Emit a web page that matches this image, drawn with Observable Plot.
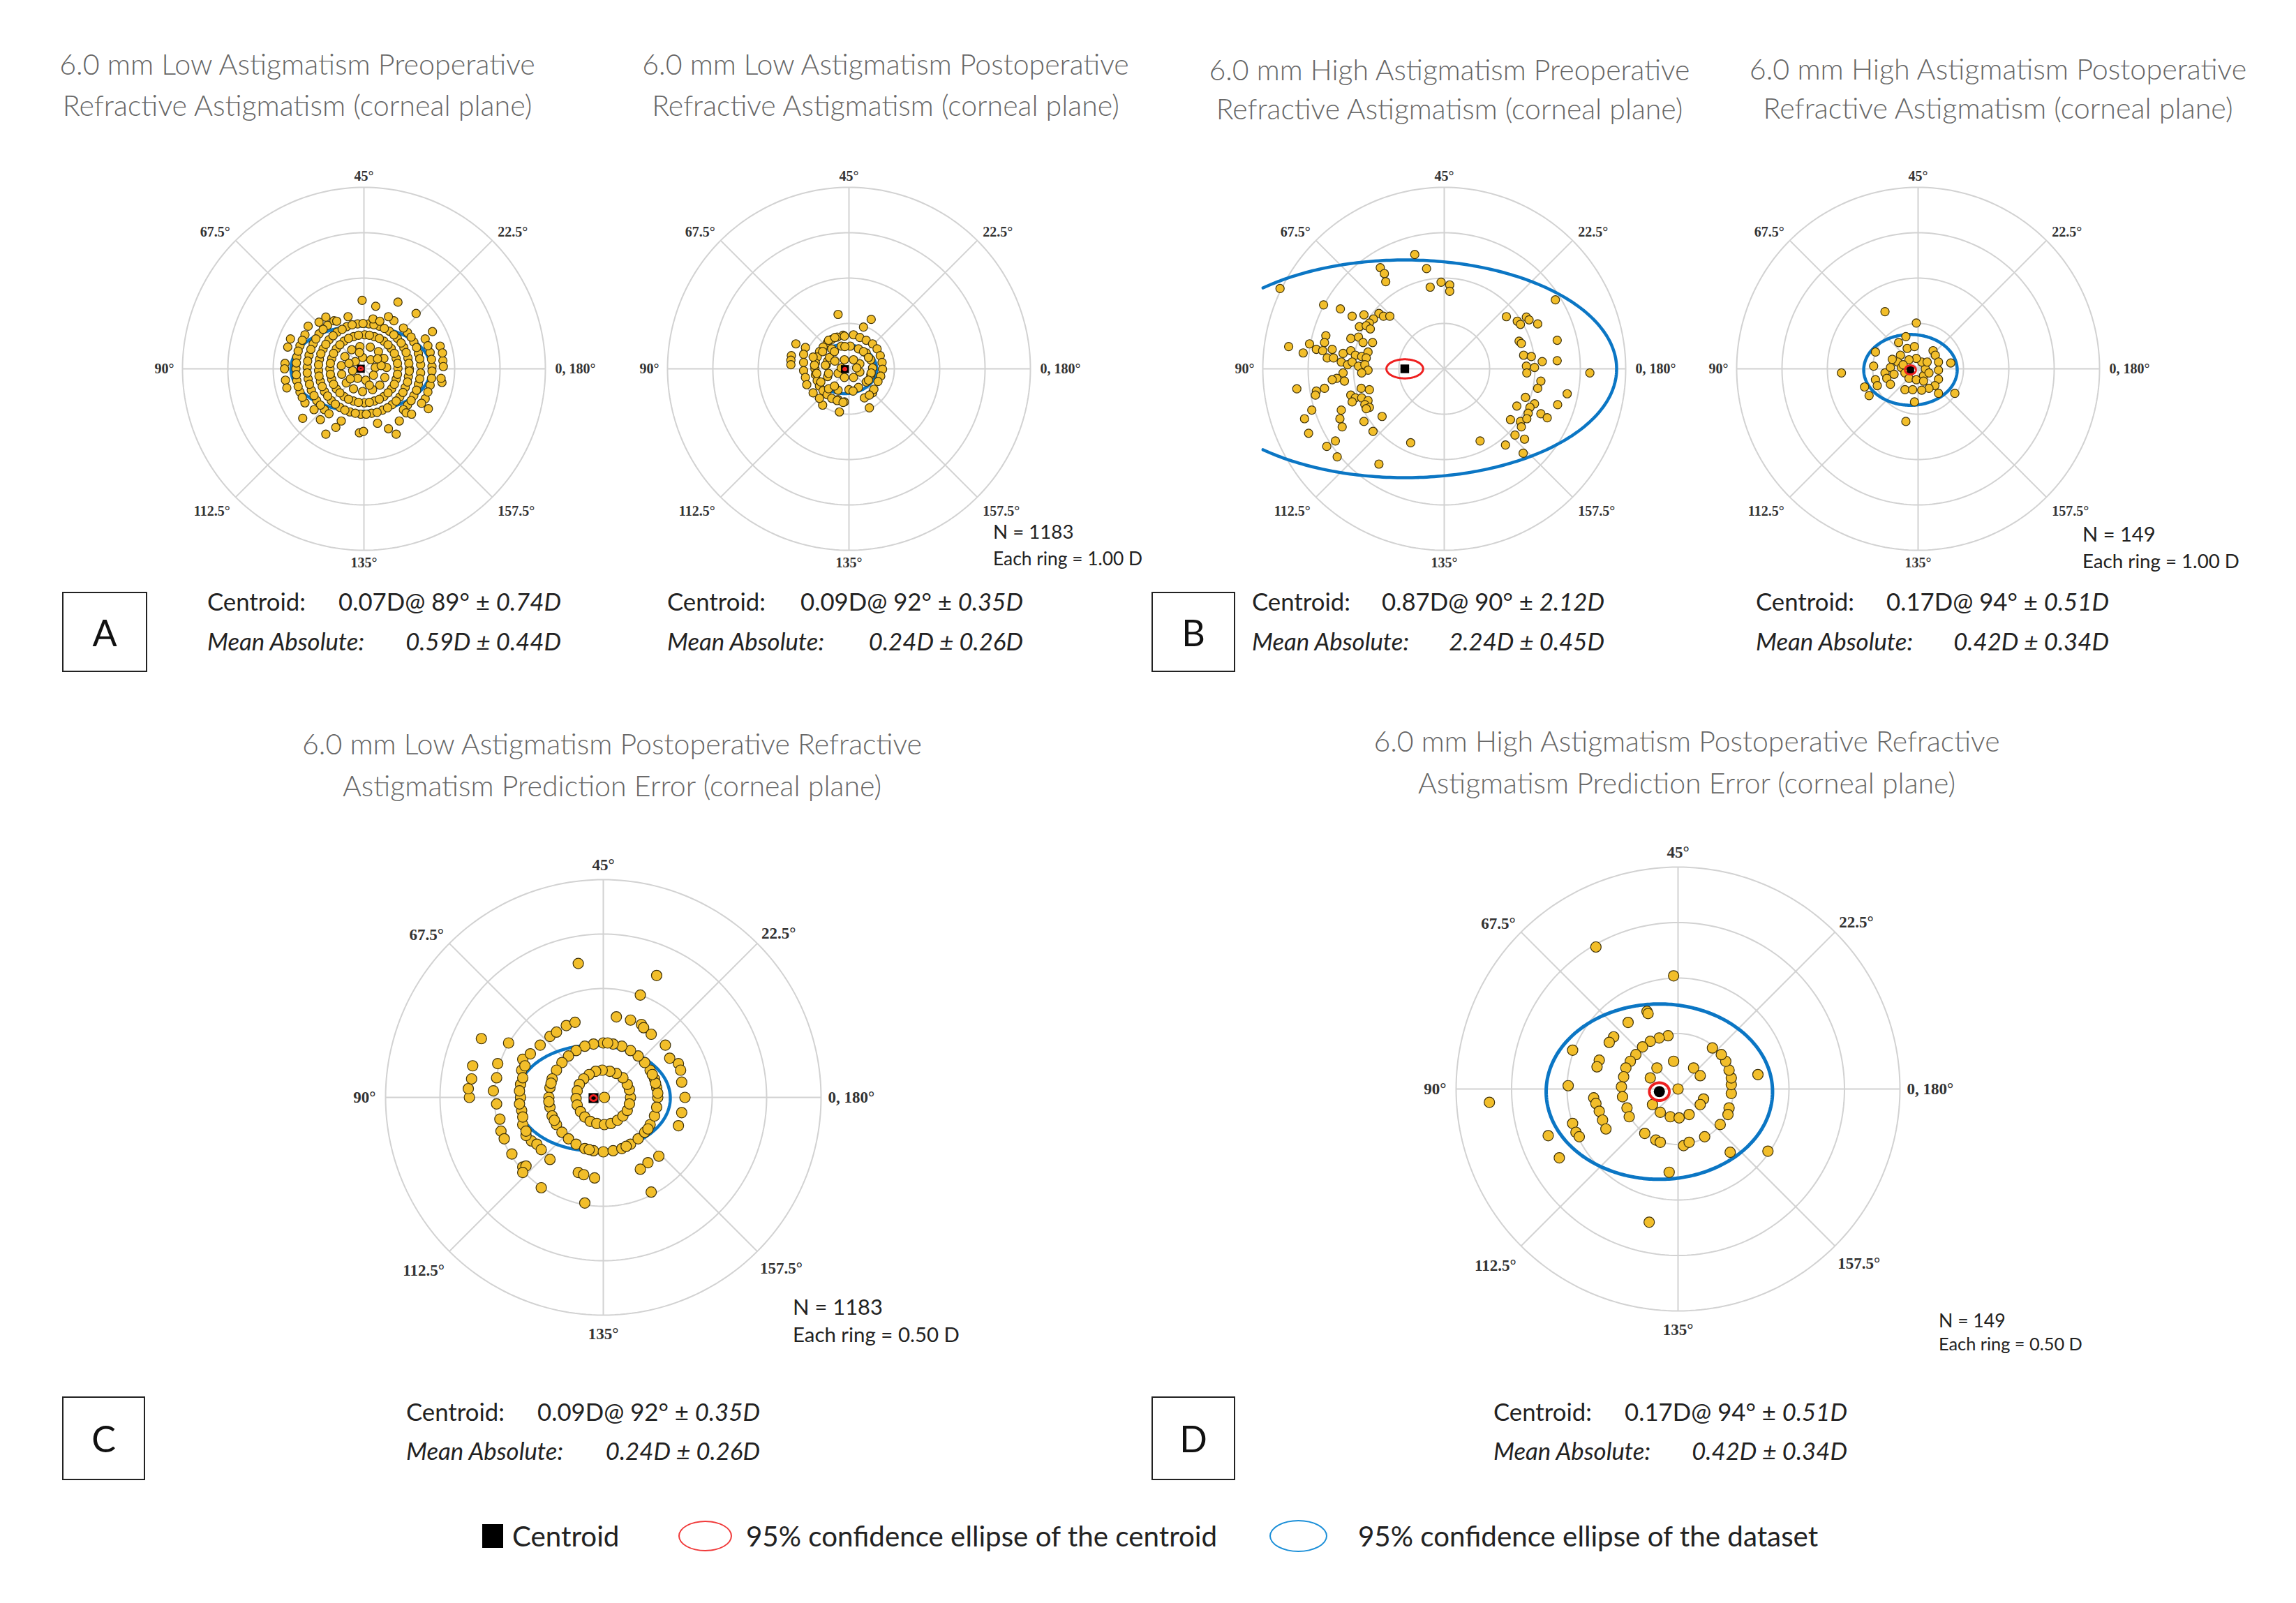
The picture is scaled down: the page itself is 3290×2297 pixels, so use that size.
<!DOCTYPE html>
<html><head><meta charset="utf-8">
<script src="https://cdn.jsdelivr.net/npm/d3@7"></script>
<script src="https://cdn.jsdelivr.net/npm/@observablehq/plot@0.6"></script>
<style>
body{margin:0;background:#fff;}
#fig{position:relative;width:3290px;height:2297px;background:#fff;overflow:hidden;font-family:Lato,"Open Sans",sans-serif;}
.t{position:absolute;white-space:nowrap;line-height:1;}
.box{position:absolute;border:2px solid #222;box-sizing:border-box;display:flex;align-items:center;justify-content:center;font-family:Lato,sans-serif;color:#111;}
</style></head><body><div id="fig"></div>
<script>
// ---------------- DATA ----------------
const panelKeys = ["A1","A2","B1","B2","C","D"];
const titles = [
  ["6.0 mm Low Astigmatism Preoperative","Refractive Astigmatism (corneal plane)"],
  ["6.0 mm Low Astigmatism Postoperative","Refractive Astigmatism (corneal plane)"],
  ["6.0 mm High Astigmatism Preoperative","Refractive Astigmatism (corneal plane)"],
  ["6.0 mm High Astigmatism Postoperative","Refractive Astigmatism (corneal plane)"],
  ["6.0 mm Low Astigmatism Postoperative Refractive","Astigmatism Prediction Error (corneal plane)"],
  ["6.0 mm High Astigmatism Postoperative Refractive","Astigmatism Prediction Error (corneal plane)"]
];
const centroidMag  = [0.07, 0.09, 0.87, 0.17, 0.09, 0.17];
const centroidAxis = [89, 92, 90, 94, 92, 94];
const centroidSD   = [0.74, 0.35, 2.12, 0.51, 0.35, 0.51];
const meanAbs      = [0.59, 0.24, 2.24, 0.42, 0.24, 0.42];
const meanAbsSD    = [0.44, 0.26, 0.45, 0.34, 0.26, 0.34];
const nCount       = [null, 1183, null, 149, 1183, 149];
const ringStep     = [1.00, 1.00, 1.00, 1.00, 0.50, 0.50];
const ringCount    = [1, 2, 3, 4];
const angleValues  = [0, 22.5, 45, 67.5, 90, 112.5, 135, 157.5];
const angleLabels  = ["0, 180°","22.5°","45°","67.5°","90°","112.5°","135°","157.5°"];
const panelLetters = ["A","B","C","D"];
// 95% confidence ellipses (semi-axes, D)
const blueSemiX = [1.54, 0.70, 4.67, 1.03, 0.705, 1.02];
const blueSemiY = [0.94, 0.54, 2.40, 0.78, 0.485, 0.79];
const redSemiX  = [0.045, 0.03, 0.405, 0.12, 0.03, 0.09];
const redSemiY  = [0.035, 0.025, 0.21, 0.10, 0.025, 0.08];
const legendItems = ["Centroid","95% confidence ellipse of the centroid","95% confidence ellipse of the dataset"];

// double-angle vector components [x, y] in dioptres
const ptsA1 = [
 [0.25,0.03],[0.15,0.20],[-0.03,0.25],[-0.19,0.16],[-0.25,-0.04],[-0.14,-0.21],[0.04,-0.25],[0.21,-0.14],
 [0.50,0.03],[0.44,0.23],[0.32,0.38],[0.14,0.48],[-0.09,0.49],[-0.27,0.42],[-0.42,0.27],[-0.50,0.07],[-0.49,-0.12],[-0.39,-0.31],[-0.23,-0.44],[-0.03,-0.50],[0.19,-0.46],[0.35,-0.36],[0.46,-0.19],
 [0.38,0.07],[0.30,0.22],[-0.33,0.12],[-0.30,-0.22],[0.12,-0.36],[-0.10,0.36],
 [0.75,0.01],[0.71,0.23],[0.60,0.45],[0.44,0.61],[0.23,0.71],[0.02,0.75],[-0.23,0.71],[-0.44,0.61],[-0.61,0.44],[-0.71,0.23],[-0.75,0.00],[-0.71,-0.23],[-0.61,-0.44],[-0.44,-0.61],[-0.23,-0.71],[0.01,-0.75],[0.23,-0.71],[0.44,-0.61],[0.61,-0.44],[0.71,-0.23],
 [0.74,0.12],[0.67,0.34],[0.53,0.53],[0.34,0.67],[0.12,0.74],[-0.12,0.74],[-0.34,0.67],[-0.53,0.53],[-0.67,0.34],[-0.74,0.12],[-0.74,-0.12],[-0.67,-0.34],[-0.53,-0.53],[-0.34,-0.67],[-0.12,-0.74],[0.12,-0.74],[0.34,-0.67],[0.53,-0.53],[0.67,-0.34],[0.74,-0.12],
 [1.00,0.00],[0.97,0.24],[0.88,0.47],[0.74,0.67],[0.56,0.83],[0.34,0.94],[0.11,0.99],[-0.14,0.99],[-0.38,0.93],[-0.59,0.81],[-0.77,0.64],[-0.90,0.44],[-0.98,0.21],[-1.00,-0.04],[-0.96,-0.28],[-0.87,-0.50],[-0.72,-0.70],[-0.53,-0.85],[-0.31,-0.95],[-0.07,-1.00],[0.17,-0.98],[0.41,-0.91],[0.62,-0.79],[0.79,-0.62],[0.91,-0.41],[0.98,-0.17],
 [0.99,0.12],[0.93,0.36],[0.82,0.57],[0.66,0.75],[0.45,0.89],[0.22,0.97],[-0.02,1.00],[-0.26,0.97],[-0.48,0.87],[-0.68,0.73],[-0.84,0.54],[-0.95,0.33],[-1.00,0.09],[-0.99,-0.16],[-0.92,-0.39],[-0.80,-0.60],[-0.63,-0.78],[-0.42,-0.91],[-0.19,-0.98],[0.05,-1.00],[0.29,-0.96],[0.52,-0.86],[0.71,-0.71],[0.86,-0.52],[0.96,-0.29],[1.00,-0.05],
 [1.25,0.09],[1.20,0.34],[1.10,0.59],[0.96,0.80],[-0.80,0.96],[-0.99,0.77],[-1.12,0.55],[-1.21,0.30],[-1.25,0.04],[-1.23,-0.22],[-1.16,-0.47],[-1.04,-0.70],[-0.87,-0.90],[0.96,-0.80],[1.10,-0.59],[1.20,-0.34],[1.25,-0.09],
 [1.23,0.22],[1.16,0.47],[1.04,0.70],[0.87,0.90],[0.66,1.06],[-0.66,1.06],[-0.90,0.87],[-1.06,0.66],[-1.17,0.43],[-1.24,0.17],[-1.25,-0.09],[-1.20,-0.34],[-1.10,-0.59],[-0.96,-0.80],[-0.77,-0.99],[0.87,-0.90],[1.04,-0.70],[1.16,-0.47],[1.23,-0.22],
 [1.50,0.05],[1.46,0.36],[1.35,0.66],[-1.30,0.75],[-1.41,0.51],[-1.48,0.26],[-1.50,0.00],[-1.48,-0.26],[-1.41,-0.51],[-1.30,-0.75],[1.35,-0.66],[1.46,-0.36],[1.50,-0.05],
 [1.49,0.21],[1.41,0.51],[-1.36,0.63],[-1.45,0.39],[-1.49,0.13],[-1.49,-0.13],[-1.45,-0.39],[-1.36,-0.63],[1.41,-0.51],[1.49,-0.21],
 [1.74,0.18],[1.72,-0.30],[-1.74,0.12],[-1.73,-0.25],[-1.68,0.48],[-1.75,0.00],[-1.70,-0.42],[1.75,0.05],[-1.62,0.66],[1.68,0.50],
 [-0.04,1.51],[0.26,1.38],[0.75,1.47],[1.15,1.22],[0.54,1.15],[1.51,0.82],[-0.84,1.14],[-0.99,1.03],[-1.23,0.94],[-1.35,-1.09],[-0.96,-1.12],[-0.84,-1.44],[-0.62,-1.29],[-0.10,-1.41],[-0.01,-1.38],[0.54,-1.32],[0.71,-1.44],[0.78,-1.15],[0.93,-0.97],[1.27,-0.76],[1.42,-0.88],[1.70,-0.21],[1.73,0.35],
 [-0.60,1.05],[-0.35,1.15],[0.20,1.10],[0.35,1.05],[-1.10,-0.90],[1.05,-1.00],[-0.50,-1.15],[0.30,-1.20]
];
const ptsA2 = [
 [-0.24,1.20],[0.49,1.09],[0.32,0.92],[-1.17,0.55],[-0.96,0.47],[-1.00,0.32],[-1.27,0.29],[-1.28,0.19],[-1.28,0.09],[-1.00,0.14],[-1.00,-0.04],[-0.96,-0.19],[-0.93,-0.35],[-0.79,-0.53],[-0.58,-0.80],[-0.65,-0.65],[-0.21,-0.95],[-0.24,-0.68],[-0.10,-0.73],[0.45,-0.86],[0.34,-0.64],[0.52,-0.53],
 [0.10,0.75],[0.24,0.69],[0.38,0.63],[0.52,0.55],[0.62,0.44],[0.69,0.29],[0.73,0.14],[0.74,-0.01],[0.70,-0.16],[0.64,-0.28],
 [-0.13,0.74],[-0.26,0.70],[-0.38,0.65],[-0.48,0.57],[-0.57,0.48],[-0.65,0.38],[-0.70,0.26],[-0.74,0.13],[-0.75,0.00],[-0.74,-0.13],[-0.70,-0.26],[-0.65,-0.38],[-0.57,-0.48],[-0.48,-0.57],[-0.38,-0.65],[-0.26,-0.70],[-0.13,-0.74],[0.55,-0.45],[0.45,-0.58],
 [-0.79,0.26],[-0.76,0.08],[-0.71,-0.10],[-0.62,-0.29],[-0.45,-0.44],[-0.24,-0.47],[0.00,-0.46],[0.21,-0.41],[0.38,-0.29],[0.48,-0.13],[0.52,0.02],[0.48,0.20],[0.38,0.35],[0.21,0.44],[0.03,0.50],[-0.17,0.50],[-0.38,0.44],[-0.58,0.38],[-0.45,0.63],[-0.31,0.69],[-0.10,0.72],
 [-0.50,0.09],[-0.47,0.17],[-0.43,0.25],[-0.32,0.38],[-0.09,0.49],[0.32,0.38],[0.43,0.25],[0.49,-0.09],[0.43,-0.25],[0.09,-0.49],[-0.32,-0.38],[-0.47,-0.17],
 [-0.31,0.17],[-0.24,-0.10],[-0.10,-0.19],[0.10,-0.19],[0.24,-0.07],[0.24,0.11],[0.10,0.20],[-0.10,0.20],[-0.17,0.02],[0.17,0.02],[-0.52,0.08],[-0.45,-0.10]
];
const ptsB1 = [
 [-0.65,2.52],[-0.39,2.21],[-1.41,2.23],[-1.32,2.10],[-1.29,1.92],[-0.31,1.80],[-0.07,1.91],[0.12,1.85],[0.12,1.71],[-3.62,1.77],
 [-2.66,1.41],[-2.29,1.32],[-2.03,1.16],[-1.77,1.19],[-1.44,1.22],[-1.34,1.16],[-1.20,1.16],[-1.56,1.10],[-1.65,1.01],[-1.87,0.93],[-1.72,0.95],[-1.63,0.88],
 [-3.43,0.49],[-2.97,0.55],[-3.11,0.35],[-2.61,0.73],[-2.64,0.58],[-2.82,0.43],[-2.68,0.40],[-2.47,0.43],[-2.58,0.24],[-2.44,0.24],
 [-2.06,0.67],[-1.89,0.70],[-1.79,0.58],[-1.58,0.58],[-2.23,0.34],[-2.06,0.40],[-1.96,0.30],[-1.82,0.27],[-1.68,0.37],[-1.72,0.24],
 [-2.27,0.15],[-2.13,0.09],[-2.03,0.15],[-1.89,0.06],[-1.75,0.09],[-1.68,-0.03],[-1.82,-0.09],
 [-2.23,-0.09],[-2.37,-0.21],[-2.20,-0.27],[-2.47,-0.24],[-2.64,-0.43],[-2.82,-0.49],[-2.84,-0.58],[-3.25,-0.44],
 [-1.83,-0.43],[-1.65,-0.46],[-2.06,-0.58],[-1.96,-0.64],[-2.03,-0.73],[-1.82,-0.64],[-1.68,-0.70],[-1.75,-0.79],[-1.65,-0.85],[-1.72,-0.88],
 [-2.27,-0.91],[-2.30,-1.10],[-2.25,-1.28],[-2.92,-0.91],[-3.08,-1.10],[-2.99,-1.42],[-1.77,-1.16],[-1.37,-1.05],[-1.57,-1.38],[-2.40,-1.59],[-2.59,-1.71],[-2.36,-1.94],[-1.44,-2.10],[-0.74,-1.63],
 [2.45,1.52],[1.37,1.15],[1.61,1.05],[1.68,0.98],[1.81,1.14],[1.87,1.08],[2.06,0.99],[1.65,0.61],[1.70,0.56],[2.49,0.63],[1.75,0.30],[1.92,0.27],[2.16,0.16],[2.49,0.18],[1.81,0.06],[1.99,0.03],[1.82,-0.09],[3.21,-0.09],[2.13,-0.27],[2.06,-0.43],[2.71,-0.55],[1.79,-0.63],[1.60,-0.82],[1.99,-0.77],[1.89,-0.85],[2.50,-0.79],[1.85,-0.98],[2.13,-0.99],[2.27,-1.08],[1.46,-1.12],[1.68,-1.16],[1.82,-1.10],[1.70,-1.28],[1.56,-1.46],[1.77,-1.55],[1.35,-1.68],[1.74,-1.86],[0.79,-1.59]
];
const ptsB2 = [
 [-0.73,1.26],[-0.04,1.01],[-0.27,0.71],[-0.94,0.37],[-0.43,0.58],[-0.24,0.45],[-0.08,0.49],[-0.39,0.30],
 [0.33,0.40],[0.38,0.30],[0.45,0.15],[0.45,-0.03],[0.45,-0.23],[0.37,-0.37],[0.24,-0.43],[0.08,-0.47],
 [0.72,0.13],[-0.98,0.06],[-1.69,-0.09],[-0.73,-0.09],[-0.69,-0.21],[-0.61,-0.34],[-0.94,-0.24],[-0.90,-0.37],[-1.18,-0.40],[-1.08,-0.59],[-0.29,-0.46],[-0.12,-0.46],[-0.08,-0.73],[0.45,-0.54],[0.81,-0.54],[-0.27,-1.16],
 [-0.45,0.15],[-0.37,0.03],[-0.29,-0.09],[-0.20,-0.21],[-0.04,-0.24],[0.12,-0.15],[0.16,0.00],[0.08,0.15],[-0.04,0.23],[-0.20,0.20],[-0.33,0.09],[-0.57,0.21],[-0.61,0.03],[-0.53,-0.12],[0.20,0.15],[0.24,-0.09],[0.12,-0.27]
];
const ptsC = [
 [0.01,0.00],
 [0.25,0.00],[0.24,0.07],[0.22,0.12],[0.18,0.18],[0.12,0.22],[0.06,0.24],[-0.01,0.25],[-0.07,0.24],[-0.13,0.21],[-0.18,0.17],[-0.22,0.12],[-0.24,0.06],[-0.25,-0.01],[-0.24,-0.07],[-0.21,-0.13],[-0.17,-0.18],[-0.12,-0.22],[-0.06,-0.24],[0.01,-0.25],[0.07,-0.24],[0.13,-0.21],[0.18,-0.17],[0.22,-0.12],[0.24,-0.06],
 [0.50,0.00],[0.49,0.09],[0.47,0.17],[0.43,0.25],[0.38,0.32],[0.32,0.38],[0.25,0.43],[0.17,0.47],[0.09,0.49],[0.00,0.50],[-0.09,0.49],[-0.17,0.47],[-0.25,0.43],[-0.32,0.38],[-0.38,0.32],[-0.43,0.25],[-0.47,0.17],[-0.49,0.09],[-0.50,0.00],[-0.49,-0.09],[-0.47,-0.17],[-0.43,-0.25],[-0.38,-0.32],[-0.32,-0.38],[-0.25,-0.43],[-0.17,-0.47],[-0.09,-0.49],[0.00,-0.50],[0.09,-0.49],[0.17,-0.47],[0.25,-0.43],[0.32,-0.38],[0.38,-0.32],[0.43,-0.25],[0.47,-0.17],[0.49,-0.09],
 [0.50,0.04],[0.48,0.13],[0.45,0.21],[-0.48,0.13],[-0.50,-0.04],[-0.45,-0.21],[0.04,0.50],[-0.13,-0.48],[0.21,-0.45],[0.41,-0.29],
 [-0.23,1.23],[0.49,1.12],[0.34,0.94],[0.12,0.74],[0.25,0.71],[0.35,0.67],[0.37,0.64],[0.44,0.58],[0.57,0.48],[0.61,0.36],[0.69,0.31],[0.71,0.25],[0.72,0.14],[0.75,0.00],[0.72,-0.14],[0.69,-0.26],[0.51,-0.54],[0.41,-0.60],[0.34,-0.66],[0.44,-0.87],[-0.17,-0.97],[-0.23,-0.69],[-0.18,-0.71],[-0.08,-0.74],[-0.57,-0.83],[-0.74,-0.64],[-0.71,-0.63],[-0.74,-0.69],[-0.84,-0.52],[-0.49,-0.57],[-0.66,-0.40],[-0.61,-0.43],[-0.57,-0.48],[-0.94,-0.31],[-0.91,-0.38],[-0.95,-0.20],[-0.98,-0.06],[-1.01,0.06],[-0.98,0.18],[-0.97,0.31],[-0.87,0.50],[-1.23,0.00],[-1.24,0.08],[-1.21,0.17],[-1.20,0.29],[-1.12,0.54],[-0.58,0.48],[-0.49,0.56],[-0.43,0.60],[-0.34,0.66],[-0.26,0.69],
 [-0.74,0.35],[-0.75,0.25],[-0.76,0.12],[-0.76,0.00],[-0.75,-0.12],[-0.74,-0.25],[-0.71,-0.35],[-0.67,0.40],[-0.72,0.29],[-0.74,0.18],[-0.77,0.06],[-0.77,-0.06],[-0.74,-0.18],[-0.71,-0.31]
];
const ptsD = [
 [-0.74,1.28],[-0.04,1.02],[-0.28,0.70],[-0.27,0.68],[-0.45,0.60],[-0.58,0.47],[-0.62,0.42],[-0.95,0.35],[-0.71,0.26],[-0.73,0.20],
 [-0.09,0.48],[-0.17,0.46],[-0.25,0.43],[-0.32,0.38],[-0.38,0.31],[-0.43,0.25],[-0.47,0.19],[-0.49,0.11],[-0.51,0.02],[-0.50,-0.07],[-0.46,-0.17],[-0.44,-0.25],
 [-0.99,0.03],[-1.70,-0.12],[-0.76,-0.08],[-0.74,-0.13],[-0.71,-0.20],[-0.68,-0.28],[-0.65,-0.36],[-0.95,-0.31],[-0.92,-0.39],[-0.89,-0.43],[-1.17,-0.42],[-1.07,-0.62],
 [-0.30,-0.40],[-0.20,-0.46],[-0.16,-0.48],[-0.08,-0.75],[-0.26,-1.20],[0.05,-0.51],[0.10,-0.48],[0.24,-0.43],[0.38,-0.32],[0.46,-0.17],[0.45,-0.23],[0.48,-0.04],[0.48,0.04],[0.48,0.10],[0.46,0.17],[0.43,0.25],[0.39,0.31],[0.31,0.37],[0.72,0.13],[0.47,-0.57],[0.81,-0.56],
 [-0.19,0.19],[-0.04,0.25],[-0.25,0.10],[-0.23,-0.14],[-0.16,-0.21],[-0.07,-0.25],[0.01,-0.26],[0.10,-0.23],[0.00,0.00],[0.14,0.19],[0.20,0.12],[0.23,-0.09],[0.20,-0.14]
];
const panelPoints = [ptsA1, ptsA2, ptsB1, ptsB2, ptsC, ptsD];

// ---------------- LAYOUT (positions / styles) ----------------
const topOff = {0:["start",14,0],45:["start",8,-12],90:["middle",0,-16],135:["end",-8,-12],180:["end",-12,0],225:["end",-8,20],270:["middle",0,18],315:["start",8,20]};
const botOff = {0:["start",10,0],45:["start",6,-14],90:["middle",0,-21],135:["end",-8,-12],180:["end",-14,0],225:["end",-7,28],270:["middle",0,27],315:["start",4,25]};
const layout = [
 {cx:521, cy:528, ppd:65, size:720, dotR:6, labFs:20, off:topOff, blueW:4.5, redW:3, cSym:"square", cR:6.5},
 {cx:1216,cy:528, ppd:65, size:720, dotR:6, labFs:20, off:topOff, blueW:4.5, redW:3, cSym:"square", cR:6.5},
 {cx:2069,cy:528, ppd:65, size:720, dotR:6, labFs:20, off:topOff, blueW:4.5, redW:3, cSym:"square", cR:7},
 {cx:2748,cy:528, ppd:65, size:720, dotR:6, labFs:20, off:topOff, blueW:4.5, redW:3, cSym:"square", cR:6},
 {cx:864, cy:1572,ppd:156,size:900, dotR:7.5, labFs:23, off:botOff, blueW:4.5, redW:3, cSym:"square", cR:8},
 {cx:2404,cy:1560,ppd:159,size:900, dotR:7.5, labFs:23, off:botOff, blueW:5, redW:4, cSym:"circle", cR:8}
];
const fig = document.getElementById("fig");
const rad = Math.PI/180;

function ellipsePts(cx, cy, a, b, n) {
  return d3.range(n + 1).map(i => { const t = -Math.PI + 2*Math.PI*i/n; return {x: cx + a*Math.cos(t), y: cy + b*Math.sin(t)}; });
}

function makePanel(i) {
  const L = layout[i], k = L.ppd, half = L.size/2/k;
  const R = ringStep[i]*ringCount[ringCount.length-1];
  const rings = ringCount.flatMap(j => ellipsePts(0,0,ringStep[i]*j,ringStep[i]*j,240).map(p => ({...p, ring:j})));
  const spokes = angleValues.map(v => ({x2: R*Math.cos(2*v*rad), y2: R*Math.sin(2*v*rad)}));
  const labs = angleValues.map((v,j) => {
    const g = 2*v, o = L.off[g];
    return {text: angleLabels[j], anchor: o[0], x: R*Math.cos(g*rad) + o[1]/k, y: R*Math.sin(g*rad) - o[2]/k};
  });
  const c = {x: centroidMag[i]*Math.cos(2*centroidAxis[i]*rad), y: centroidMag[i]*Math.sin(2*centroidAxis[i]*rad)};
  const blue = ellipsePts(c.x, c.y, blueSemiX[i], blueSemiY[i], 360).filter(p => p.x >= -R && p.x <= R);
  const red = ellipsePts(c.x, c.y, redSemiX[i], redSemiY[i], 120);
  const grid = "#d2d2d2";
  const marks = [
    Plot.line(rings, {x:"x", y:"y", z:"ring", stroke:grid, strokeWidth:2}),
    Plot.link(spokes, {x1:() => 0, y1:() => 0, x2:"x2", y2:"y2", stroke:grid, strokeWidth:2}),
    Plot.line(blue, {x:"x", y:"y", stroke:"#0b76c4", strokeWidth:L.blueW}),
    Plot.dot(panelPoints[i], {x:d => d[0], y:d => d[1], r:L.dotR, fill:"#f2be2a", stroke:"#3f320a", strokeWidth:1.2}),
    Plot.dot([c], {x:"x", y:"y", symbol:L.cSym, r:L.cR, fill:"#000"}),
    Plot.line(red, {x:"x", y:"y", stroke:"#ee2020", strokeWidth:L.redW})
  ];
  for (const a of ["start","middle","end"]) {
    marks.push(Plot.text(labs.filter(l => l.anchor === a), {x:"x", y:"y", text:"text", textAnchor:a,
      fontFamily:"Liberation Serif, DejaVu Serif, serif", fontSize:L.labFs, fontWeight:"bold", fill:"#333"}));
  }
  const svg = Plot.plot({
    width:L.size, height:L.size, margin:0,
    x:{domain:[-half, half], axis:null}, y:{domain:[-half, half], axis:null},
    style:{background:"none", overflow:"visible"},
    marks
  });
  svg.style.position = "absolute";
  svg.style.left = (L.cx - L.size/2) + "px";
  svg.style.top = (L.cy - L.size/2) + "px";
  fig.append(svg);
}
panelKeys.forEach((_, i) => makePanel(i));

// ---------------- TEXT ----------------
const ctx = document.createElement("canvas").getContext("2d");
function fitSize(text, family, style, targetW) {
  ctx.font = `${style} 100px ${family}`;
  return 100*targetW/ctx.measureText(text).width;
}
function addText(html, x, y, fs, anchor, color, extra) {
  const d = document.createElement("div");
  d.className = "t"; d.innerHTML = html;
  const tx = anchor === "middle" ? "-50%" : anchor === "end" ? "-100%" : "0";
  Object.assign(d.style, {left:x+"px", top:y+"px", fontSize:fs+"px", color:color || "#222", transform:`translate(${tx},-50%)`}, extra || {});
  fig.append(d);
  return d;
}
const FAM = "Lato";
// titles: [centre x, y line1, y line2, width of line 1]
const titlePos = [[426,92,151,698],[1269,92,151,714],[2077,99,155,704],[2863,99,155,728],[877,1066,1126,909],[2417,1062,1122,917]];
titles.forEach((t, i) => {
  const [x, y1, y2, w] = titlePos[i];
  const fs = fitSize(t[0], FAM, "normal", w);
  addText(t[0], x, y1, fs, "middle", "#666", {fontWeight:"300"});
  addText(t[1], x, y2, fs, "middle", "#666", {fontWeight:"300"});
});
// stats: [label x, value right x, y1, y2]
const statPos = [[297,804,862,919],[956,1466,862,919],[1794,2299,862,919],[2516,3022,862,919],[582,1089,2023,2079],[2140,2647,2023,2079]];
const statFs = fitSize("Centroid:", FAM, "normal", 141);
const f2 = v => v.toFixed(2);
statPos.forEach((p, i) => {
  const [xl, xr, y1, y2] = p;
  addText("Centroid:", xl, y1, statFs, "start", "#222");
  addText(`${f2(centroidMag[i])}D@ ${centroidAxis[i]}° ± <i>${f2(centroidSD[i])}D</i>`, xr, y1, statFs, "end", "#222");
  addText("<i>Mean Absolute:</i>", xl, y2, statFs, "start", "#222");
  addText(`<i>${f2(meanAbs[i])}D ± ${f2(meanAbsSD[i])}D</i>`, xr, y2, statFs, "end", "#222");
});
// N / ring notes: [x, y1, y2, width of ring line]
const notePos = {1:[1423,762,800,214], 3:[2984,765,804,225], 4:[1136,1873,1912,239], 5:[2778,1892,1926,206]};
Object.entries(notePos).forEach(([i, p]) => {
  const ringTxt = `Each ring = ${ringStep[i].toFixed(2)} D`;
  const fs = fitSize(ringTxt, FAM, "normal", p[3]);
  addText(`N = ${nCount[i]}`, p[0], p[1], fs*1.05, "start", "#222");
  addText(ringTxt, p[0], p[2], fs, "start", "#222");
});
// letter boxes
const boxPos = [[89,848,122,115],[1650,848,120,115],[89,2001,119,120],[1650,2001,120,120]];
panelLetters.forEach((l, i) => {
  const [x, y, w, h] = boxPos[i];
  const b = document.createElement("div");
  b.className = "box"; b.textContent = l;
  Object.assign(b.style, {left:x+"px", top:y+"px", width:w+"px", height:h+"px", fontSize:"52px"});
  fig.append(b);
});
// legend
const legFs = fitSize(legendItems[1], FAM, "normal", 676);
const sq = document.createElement("div");
Object.assign(sq.style, {position:"absolute", left:"691px", top:"2184px", width:"30px", height:"34px", background:"#000"});
fig.append(sq);
addText(legendItems[0], 734, 2201, legFs, "start", "#222");
const e1 = document.createElement("div");
Object.assign(e1.style, {position:"absolute", left:"972px", top:"2179px", width:"77px", height:"44px", border:"2.5px solid #f03a3a", borderRadius:"50%", boxSizing:"border-box"});
fig.append(e1);
addText(legendItems[1], 1069, 2201, legFs, "start", "#222");
const e2 = document.createElement("div");
Object.assign(e2.style, {position:"absolute", left:"1819px", top:"2178px", width:"83px", height:"46px", border:"2.5px solid #1b8fd8", borderRadius:"50%", boxSizing:"border-box"});
fig.append(e2);
addText(legendItems[2], 1946, 2201, legFs, "start", "#222");
</script></body></html>
